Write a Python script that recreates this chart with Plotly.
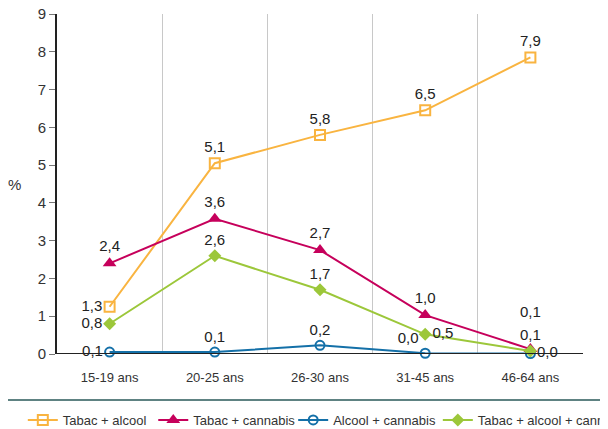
import plotly.graph_objects as go

ages = ['15-19 ans', '20-25 ans', '26-30 ans', '31-45 ans', '46-64 ans']
tabac_alcool = [1.25, 5.05, 5.8, 6.45, 7.85]
tabac_alcool_lbl = ['1,3', '5,1', '5,8', '6,5', '7,9']
tabac_cannabis = [2.4, 3.58, 2.75, 1.03, 0.13]
tabac_cannabis_lbl = ['2,4', '3,6', '2,7', '1,0', '0,1<br> ']
alcool_cannabis = [0.05, 0.05, 0.23, 0.02, 0.01]
alcool_cannabis_lbl = ['0,1', '0,1', '0,2', '0,0', '0,0']
tac = [0.8, 2.6, 1.7, 0.52, 0.08]
tac_lbl = ['0,8', '2,6', '1,7', '0,5', '0,1']

FONT = 'Liberation Sans, Arial, sans-serif'

fig = go.Figure()
fig.add_trace(go.Scatter(x=ages, y=tabac_alcool, name='Tabac + alcool',
	mode='lines+markers+text', text=tabac_alcool_lbl, legend='legend',
	textposition=['middle left', 'top center', 'top center', 'top center', 'top center'],
	line=dict(color='#F9B440', width=2),
	marker=dict(symbol='square-open', size=10, color='#F9B440', line=dict(width=2))))
fig.add_trace(go.Scatter(x=ages, y=tabac_cannabis, name='Tabac + cannabis',
	mode='lines+markers+text', text=tabac_cannabis_lbl, legend='legend2',
	textposition='top center',
	line=dict(color='#C6005B', width=2),
	marker=dict(symbol='triangle-up', size=12, color='#C6005B')))
fig.add_trace(go.Scatter(x=ages, y=alcool_cannabis, name='Alcool + cannabis',
	mode='lines+markers+text', text=alcool_cannabis_lbl, legend='legend3',
	textposition=['middle left', 'top center', 'top center', 'top left', 'middle right'],
	line=dict(color='#1470A8', width=2),
	marker=dict(symbol='circle-open', size=9, color='#1470A8', line=dict(width=2))))
fig.add_trace(go.Scatter(x=ages, y=tac, name='Tabac + alcool + cannabis',
	mode='lines+markers+text', text=tac_lbl, legend='legend4',
	textposition=['middle left', 'top center', 'top center', 'middle right', 'top center'],
	line=dict(color='#9CC73A', width=2),
	marker=dict(symbol='diamond', size=10, color='#9CC73A')))

fig.update_traces(textfont=dict(family=FONT, size=15, color='#222'), cliponaxis=False)

# one legend box per series so they can sit in a single row like the original
def leg(x):
	return dict(orientation='h', x=x, y=-0.194, xanchor='left', yanchor='middle',
		font=dict(size=13, color='#333'), itemwidth=30, bgcolor='rgba(0,0,0,0)')

# the page body adds an 8px offset, margins compensate for it
fig.update_layout(
	width=608, height=429, margin=dict(l=49, r=33, t=6, b=83, autoexpand=False),
	plot_bgcolor='white', paper_bgcolor='white',
	font=dict(family=FONT, size=14, color='#333'),
	showlegend=True,
	legend=leg(-0.065), legend2=leg(0.183), legend3=leg(0.449), legend4=leg(0.724),
	xaxis=dict(type='category', range=[-0.5, 4.5], tickson='boundaries',
		showgrid=True, gridcolor='#C8C8C8', gridwidth=1, ticks='', showline=False,
		zeroline=False, ticklabelstandoff=14, tickfont=dict(size=13, color='#333')),
	yaxis=dict(range=[0, 9], dtick=1, showgrid=False, zeroline=False,
		showline=True, linecolor='#222', linewidth=2, ticks='outside', ticklen=6,
		tickcolor='#777', ticklabeloverflow='allow', tickfont=dict(size=15, color='#333')),
	annotations=[dict(text='%', x=-0.08, y=0.5, xref='paper', yref='paper',
		showarrow=False, font=dict(size=15, color='#333'), xanchor='center')],
	shapes=[
		dict(type='line', xref='paper', yref='y', x0=0, x1=1, y0=0, y1=0,
			line=dict(color='#222', width=2)),
		dict(type='line', xref='paper', yref='paper', x0=-0.1, x1=1.07,
			y0=-0.135, y1=-0.135, line=dict(color='#5E8282', width=2)),
	],
)

fig.write_html("out.html")
